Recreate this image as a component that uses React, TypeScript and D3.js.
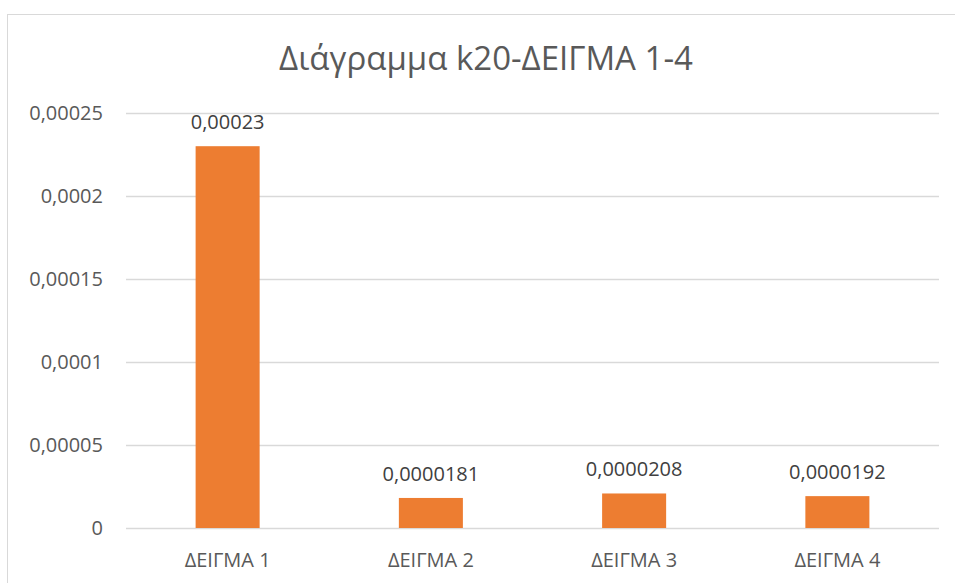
import React, { useEffect, useRef } from "react";
import * as d3 from "d3";

const categories = ["ΔΕΙΓΜΑ 1", "ΔΕΙΓΜΑ 2", "ΔΕΙΓΜΑ 3", "ΔΕΙΓΜΑ 4"];
const values = [0.00023, 0.0000181, 0.0000208, 0.0000192];
const valueLabels = ["0,00023", "0,0000181", "0,0000208", "0,0000192"];
const yTicks = [0, 0.00005, 0.0001, 0.00015, 0.0002, 0.00025];
const yTickLabels = ["0", "0,00005", "0,0001", "0,00015", "0,0002", "0,00025"];
const title = "Διάγραμμα k20-ΔΕΙΓΜΑ 1-4";

const W = 955;
const H = 583;
const FONT = "'Open Sans', 'Noto Sans', 'Liberation Sans', sans-serif";

export default function App() {
  const ref = useRef<SVGSVGElement>(null);
  useEffect(() => {
    const svg = d3.select(ref.current);
    svg.selectAll("*").remove();

    const left = 126, right = 939, top = 113, bottom = 528;

    svg.append("rect")
      .attr("x", 7.5).attr("y", 14.5)
      .attr("width", 960).attr("height", 600)
      .attr("fill", "#fff").attr("stroke", "#d9d9d9").attr("stroke-width", 1);

    const x = d3.scaleBand<string>().domain(categories).range([left, right]).paddingInner(0.685).paddingOuter(0.3425);
    const y = d3.scaleLinear().domain([0, 0.00025]).range([bottom, top]);

    svg.append("text")
      .attr("x", 486).attr("y", 70)
      .attr("text-anchor", "middle")
      .attr("font-family", FONT).attr("font-size", 33)
      .attr("fill", "#595959")
      .text(title);

    const g = svg.append("g");
    yTicks.forEach((t, i) => {
      g.append("line")
        .attr("x1", left).attr("x2", right)
        .attr("y1", Math.round(y(t)) + 0.5).attr("y2", Math.round(y(t)) + 0.5)
        .attr("stroke", "#d9d9d9").attr("stroke-width", 1.3);
      g.append("text")
        .attr("x", 103).attr("y", y(t))
        .attr("dy", "0.35em")
        .attr("text-anchor", "end")
        .attr("font-family", FONT).attr("font-size", 20)
        .attr("fill", "#595959")
        .text(yTickLabels[i]);
    });

    categories.forEach((c, i) => {
      const bx = x(c)!;
      g.append("rect")
        .attr("x", bx).attr("y", y(values[i]))
        .attr("width", x.bandwidth()).attr("height", bottom - y(values[i]))
        .attr("fill", "#ed7d31");
      g.append("text")
        .attr("x", bx + x.bandwidth() / 2).attr("y", y(values[i]) - 17)
        .attr("text-anchor", "middle")
        .attr("font-family", FONT).attr("font-size", 20)
        .attr("fill", "#404040")
        .text(valueLabels[i]);
      g.append("text")
        .attr("x", bx + x.bandwidth() / 2).attr("y", 567)
        .attr("text-anchor", "middle")
        .attr("font-family", FONT).attr("font-size", 20)
        .attr("fill", "#595959")
        .text(c);
    });
  }, []);
  return (
    <svg ref={ref} width={W} height={H}
      style={{ position: "absolute", left: 0, top: 0, display: "block", background: "#fff" }} />
  );
}
